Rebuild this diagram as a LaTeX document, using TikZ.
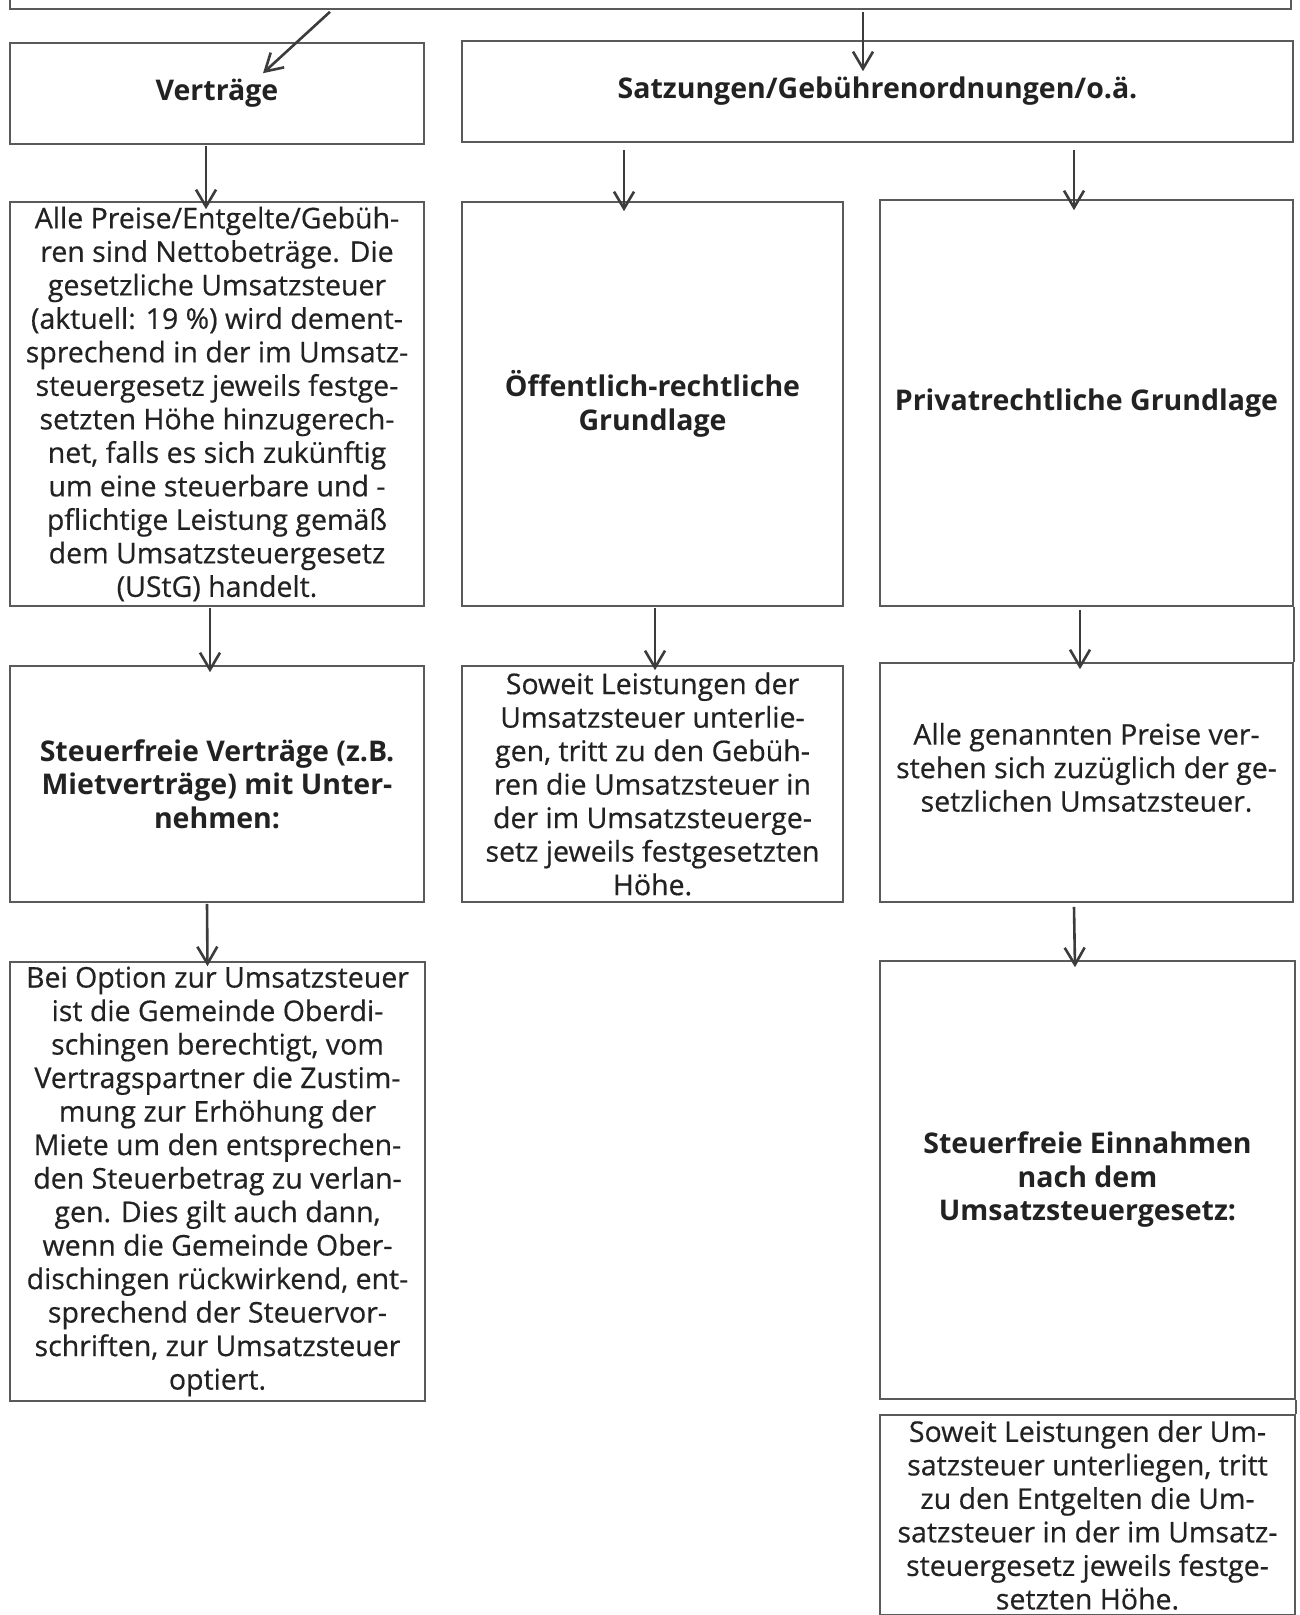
\documentclass[tikz,border=0pt]{standalone}
\usepackage{fontspec}
\setmainfont{Open Sans}[UprightFeatures={FakeBold=0.5}]
\usetikzlibrary{arrows.meta,calc}
\definecolor{boxgray}{HTML}{5A5A5A}
\definecolor{arrgray}{HTML}{3C3C3C}
\definecolor{inkgray}{HTML}{222222}

\begin{document}
\begin{tikzpicture}
  [x=1pt, y=-1pt,
  txt/.style={align=center, inner sep=0pt, text=inkgray,
    font=\fontsize{28.5}{33.5}\selectfont},
  box/.style={txt, draw=boxgray, line width=1.6pt},
  head/.style={box, font=\fontsize{28.5}{33.5}\selectfont\bfseries},
  arr/.style={draw=arrgray, line width=2.6pt,
    -{Straight Barb[length=17pt, width=20pt]}}]
  \useasboundingbox (0,0) rectangle (1299,1615);

  \node[box, minimum width=1281pt, minimum height=209pt] (grund) at (650.5,-95.5) {};

  \node[head, minimum width=414pt, minimum height=101pt] (vert) at (217,93.5) {Verträge};
  \node[head, minimum width=831pt, minimum height=101pt] (satz) at (877.5,91.5)
    {Satzungen/Gebührenordnungen/o.ä.};

  \node[box, minimum width=414pt, minimum height=404pt] (preise) at (217,404)
    {Alle Preise/Entgelte/Gebüh-\\ren sind Nettobeträge. Die\\gesetzliche Umsatzsteuer\\
     (aktuell: 19 \%) wird dement-\\sprechend in der im Umsatz-\\steuergesetz jeweils festge-\\
     setzten Höhe hinzugerech-\\net, falls es sich zukünftig\\um eine steuerbare und -\\
     pflichtige Leistung gemäß\\dem Umsatzsteuergesetz\\(UStG) handelt.};
  \node[head, minimum width=381pt, minimum height=404pt] (oeff) at (652.5,404)
    {Öffentlich-rechtliche\\Grundlage};
  \node[head, minimum width=413pt, minimum height=406pt] (priv) at (1086.5,403)
    {Privatrechtliche Grundlage};

  \node[head, minimum width=414pt, minimum height=236pt] (stfv) at (217,784)
    {Steuerfreie Verträge (z.B.\\Mietverträge) mit Unter-\\nehmen:};
  \node[box, minimum width=381pt, minimum height=236pt] (gebu) at (652.5,784)
    {Soweit Leistungen der\\Umsatzsteuer unterlie-\\gen, tritt zu den Gebüh-\\
     ren die Umsatzsteuer in\\der im Umsatzsteuerge-\\setz jeweils festgesetzten\\Höhe.};
  \node[box, minimum width=413pt, minimum height=239pt] (alle) at (1086.5,782.5) {};
  \node[txt] (alletext) at ($(alle.center)+(0,-15)$)
    {Alle genannten Preise ver-\\stehen sich zuzüglich der ge-\\setzlichen Umsatzsteuer.};

  \node[box, minimum width=415pt, minimum height=439pt] (option) at (217.5,1181.5)
    {Bei Option zur Umsatzsteuer\\ist die Gemeinde Oberdi-\\schingen berechtigt, vom\\
     Vertragspartner die Zustim-\\mung zur Erhöhung der\\Miete um den entsprechen-\\
     den Steuerbetrag zu verlan-\\gen. Dies gilt auch dann,\\wenn die Gemeinde Ober-\\
     dischingen rückwirkend, ent-\\sprechend der Steuervor-\\schriften, zur Umsatzsteuer\\optiert.};
  \node[head, minimum width=415pt, minimum height=438pt] (einn) at (1087.5,1180)
    {Steuerfreie Einnahmen\\nach dem\\Umsatzsteuergesetz:};
  \node[box, minimum width=415pt, minimum height=200pt] (entg) at (1087.5,1515)
    {Soweit Leistungen der Um-\\satzsteuer unterliegen, tritt\\zu den Entgelten die Um-\\
     satzsteuer in der im Umsatz-\\steuergesetz jeweils festge-\\setzten Höhe.};

  \draw[arr] ($(grund.south)+(-320.5,2)$) -- ($(vert.north)+(46,31)$);
  \draw[arr] ($(grund.south)+(212.5,2)$) -- ($(satz.north)+(-14.5,31)$);
  \draw[arr] ($(vert.south)+(-11,1)$) -- ($(preise.north)+(-11,8)$);
  \draw[arr] ($(satz.south)+(-253.5,7)$) -- ($(oeff.north)+(-28.5,10)$);
  \draw[arr] ($(satz.south)+(196.5,7)$) -- ($(priv.north)+(-12.5,11)$);
  \draw[arr] ($(preise.south)+(-7,1)$) -- ($(stfv.north)+(-7,7)$);
  \draw[arr] ($(oeff.south)+(2.5,1)$) -- ($(gebu.north)+(2.5,5)$);
  \draw[arr] ($(priv.south)+(-6.5,3)$) -- ($(alle.north)+(-6.5,7)$);
  \draw[arr] ($(stfv.south)+(-10,1)$) -- ($(option.north)+(-10,5)$);
  \draw[arr] ($(alle.south)+(-12.5,4)$) -- ($(einn.north)+(-12.5,7)$);

  \draw[draw=boxgray, line width=1.6pt] (priv.south east) -- (alle.north east);
  \draw[draw=boxgray, line width=1.6pt] (einn.south east) -- (entg.north east);
\end{tikzpicture}
\end{document}
